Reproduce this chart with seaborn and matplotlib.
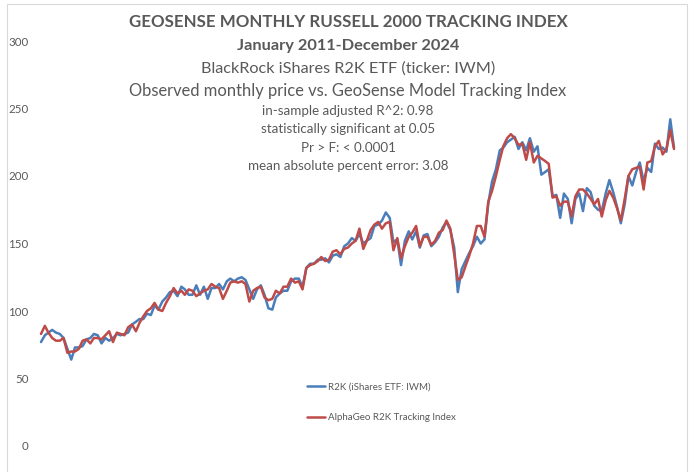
import numpy as np
import pandas as pd
import matplotlib
matplotlib.use("Agg")
import matplotlib.pyplot as plt
from matplotlib.patches import Rectangle
from matplotlib.lines import Line2D
import seaborn as sns

# ---- data (monthly, Jan 2011 - Dec 2024) ----
months = pd.date_range("2011-01-01", "2024-12-01", freq="MS")

r2k_2011 = [77, 82, 84, 86, 84, 83, 80, 72, 64, 73, 73, 74]
r2k_2012 = [79, 80, 83, 82, 76, 80, 78, 80, 83, 82, 83, 84]
r2k_2013 = [90, 92, 94, 94, 98, 97, 104, 101, 107, 110, 114, 115]
r2k_2014 = [111, 118, 116, 112, 112, 119, 112, 118, 109, 117, 117, 120]
r2k_2015 = [116, 122, 124, 122, 124, 125, 123, 116, 109, 116, 119, 112]
r2k_2016 = [102, 101, 110, 113, 115, 115, 122, 124, 124, 118, 132, 135]
r2k_2017 = [135, 138, 138, 139, 136, 141, 142, 140, 148, 150, 154, 152]
r2k_2018 = [157, 150, 152, 154, 163, 164, 167, 173, 169, 151, 153, 134]
r2k_2019 = [152, 159, 153, 159, 147, 156, 157, 148, 151, 155, 162, 166]
r2k_2020 = [160, 147, 114, 131, 137, 143, 148, 155, 150, 153, 180, 196]
r2k_2021 = [205, 219, 221, 225, 227, 229, 220, 225, 219, 228, 218, 222]
r2k_2022 = [201, 203, 205, 185, 186, 169, 187, 183, 165, 183, 187, 174]
r2k_2023 = [191, 188, 178, 175, 174, 187, 197, 188, 177, 165, 179, 200]
r2k_2024 = [193, 203, 210, 196, 206, 203, 224, 220, 221, 218, 242, 221]

geo_2011 = [83, 89, 84, 80, 78, 78, 80, 69, 70, 70, 72, 78]
geo_2012 = [79, 76, 80, 80, 79, 82, 85, 77, 84, 83, 82, 88]
geo_2013 = [90, 85, 91, 96, 100, 102, 106, 101, 100, 106, 111, 117]
geo_2014 = [113, 115, 112, 116, 115, 111, 113, 115, 116, 120, 118, 117]
geo_2015 = [109, 115, 121, 122, 121, 122, 120, 107, 115, 117, 118, 110]
geo_2016 = [108, 109, 115, 113, 118, 118, 124, 121, 122, 116, 132, 134]
geo_2017 = [135, 137, 140, 137, 138, 144, 145, 142, 146, 147, 150, 152]
geo_2018 = [161, 146, 152, 160, 164, 166, 161, 165, 166, 145, 154, 139]
geo_2019 = [148, 155, 158, 163, 148, 155, 155, 149, 152, 158, 160, 167]
geo_2020 = [161, 142, 123, 125, 133, 141, 150, 163, 163, 155, 181, 189]
geo_2021 = [200, 212, 222, 228, 231, 228, 223, 224, 212, 225, 210, 215]
geo_2022 = [213, 211, 209, 184, 185, 178, 181, 181, 170, 185, 190, 190]
geo_2023 = [187, 183, 179, 183, 170, 182, 189, 184, 176, 167, 183, 200]
geo_2024 = [205, 206, 207, 190, 210, 211, 222, 226, 216, 220, 234, 220]

r2k = (r2k_2011 + r2k_2012 + r2k_2013 + r2k_2014 + r2k_2015 + r2k_2016 + r2k_2017
       + r2k_2018 + r2k_2019 + r2k_2020 + r2k_2021 + r2k_2022 + r2k_2023 + r2k_2024)
geo = (geo_2011 + geo_2012 + geo_2013 + geo_2014 + geo_2015 + geo_2016 + geo_2017
       + geo_2018 + geo_2019 + geo_2020 + geo_2021 + geo_2022 + geo_2023 + geo_2024)

label_r2k = "R2K (iShares ETF: IWM)"
label_geo = "AlphaGeo R2K Tracking Index"
y_ticks = [0, 50, 100, 150, 200, 250, 300]

title_lines = [
    "GEOSENSE MONTHLY RUSSELL 2000 TRACKING INDEX",
    "January 2011-December 2024",
    "BlackRock iShares R2K ETF (ticker: IWM)",
    "Observed monthly price vs. GeoSense Model Tracking Index",
]
stat_lines = [
    "in-sample adjusted R^2: 0.98",
    "statistically significant at 0.05",
    "Pr > F: < 0.0001",
    "mean absolute percent error: 3.08",
]

df = pd.DataFrame({
    "month": list(months) * 2,
    "value": r2k + geo,
    "series": [label_r2k] * len(r2k) + [label_geo] * len(geo),
})

# ---- styling ----
sns.set_theme(style="white")
plt.rcParams["font.family"] = ["Lato", "DejaVu Sans"]
TXT = "#595959"
BLUE = "#4A7EBB"
RED = "#BE4B48"

W, H = 694, 472
fig = plt.figure(figsize=(W / 100, H / 100), dpi=100)
fig.patch.set_facecolor("white")

# axes in pixel placement
x0, x1 = 41, 674
y_top, y_bot = 41, 446
ax = fig.add_axes([x0 / W, 1 - y_bot / H, (x1 - x0) / W, (y_bot - y_top) / H])
ax.set_facecolor("none")

sns.lineplot(data=df, x="month", y="value", hue="series",
             palette={label_r2k: BLUE, label_geo: RED},
             hue_order=[label_r2k, label_geo],
             linewidth=1.8, legend=False, ax=ax, clip_on=False)

ax.set_xlim(months[0], months[-1])
ax.set_ylim(0, 300)
ax.set_yticks(y_ticks)
ax.set_yticklabels([str(v) for v in y_ticks])
ax.set_xticks([])
ax.set_xlabel("")
ax.set_ylabel("")
for s in ax.spines.values():
    s.set_visible(False)
ax.tick_params(axis="y", length=0, pad=9, labelsize=8.3, labelcolor=TXT)

# outer chart border
fig.patches.append(Rectangle((7 / W, -0.01), (687 - 7) / W, 1 - 4 / H + 0.01,
                             transform=fig.transFigure, fill=False,
                             edgecolor="#d9d9d9", linewidth=0.8))

# titles
cx = 348 / W
fig.text(cx, 1 - 22 / H, title_lines[0], ha="center", va="center",
         fontsize=12.2, fontweight="bold", color=TXT)
fig.text(cx, 1 - 46 / H, title_lines[1], ha="center", va="center",
         fontsize=11.8, fontweight="bold", color=TXT)
fig.text(cx, 1 - 69 / H, title_lines[2], ha="center", va="center",
         fontsize=11.7, color=TXT)
fig.text(cx, 1 - 91 / H, title_lines[3], ha="center", va="center",
         fontsize=11.9, color=TXT)
for yy, s in zip([111, 129, 148, 166], stat_lines):
    fig.text(cx, 1 - yy / H, s, ha="center", va="center",
             fontsize=9.6, color=TXT)

# legend
handles = [Line2D([], [], color=BLUE, lw=1.8), Line2D([], [], color=RED, lw=1.8)]
leg = fig.legend(handles, [label_r2k, label_geo], loc="upper left",
                 bbox_to_anchor=(298 / W, 1 - 374 / H), frameon=False,
                 fontsize=7, handlelength=1.9, handletextpad=0.3,
                 labelspacing=2.2)
for t in leg.get_texts():
    t.set_color(TXT)

fig.savefig("out.png", dpi=100, facecolor="white")
